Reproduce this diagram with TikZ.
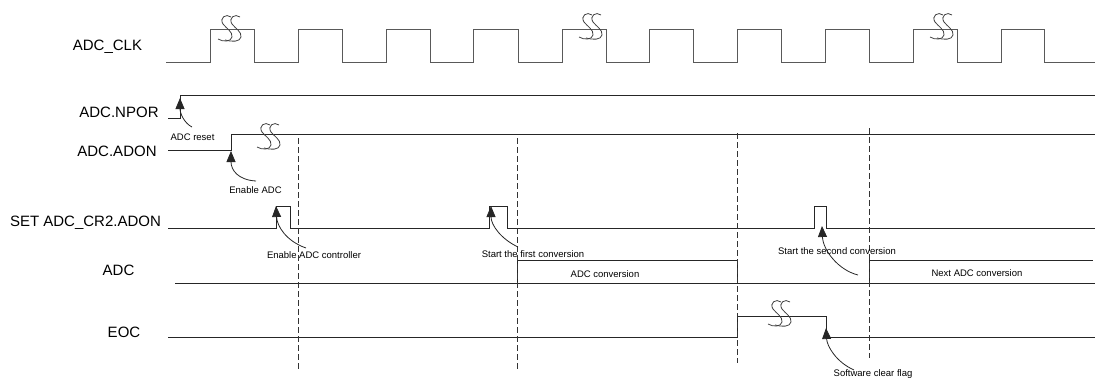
\documentclass[tikz,border=0pt]{standalone}
\usepackage{fontspec}
\setmainfont{Liberation Sans}
\usetikzlibrary{arrows.meta}
\begin{document}
\begin{tikzpicture}[x=1bp,y=-1bp,
  sig/.style={line width=0.8bp, draw=black!85},
  clk/.style={line width=0.9bp, draw=black!65},
  guide/.style={line width=0.7bp, draw=black!80, dash pattern=on 6bp off 3bp},
  lbl/.style={font=\fontsize{15bp}{17bp}\selectfont, inner sep=0, anchor=base},
  note/.style={font=\fontsize{9.5bp}{11bp}\selectfont, inner sep=0, anchor=base},
  callout/.style={line width=0.8bp, draw=black!85, -{Triangle[length=11bp,width=9bp]}},
  brk/.pic={
    \draw[line width=0.8bp, black!75]
      (4,-12) .. controls (-1,-16) and (-8,-11) .. (-4,-5)
      .. controls (-1,-1) and (6,3) .. (5,8)
      .. controls (4,13) and (-4,13) .. (-9,10);
    \draw[line width=0.8bp, black!75]
      (13,-12) .. controls (8,-16) and (1,-11) .. (5,-5)
      .. controls (8,-1) and (15,3) .. (14,8)
      .. controls (13,13) and (5,13) .. (-2,11);
  },
]
\useasboundingbox (0,0) rectangle (1095,379);

% ---- signal names ----
\node[lbl] (lclk)  at (107.5,50) {ADC\_CLK};
\node[lbl] (lnpor) at (119,117) {ADC.NPOR};
\node[lbl] (ladon) at (117,156) {ADC.ADON};
\node[lbl] (lset)  at (85.5,226) {SET ADC\_CR2.ADON};
\node[lbl] (ladc)  at (118.5,275) {ADC};
\node[lbl] (leoc)  at (124,337) {EOC};

% ---- ADC_CLK ----
\draw[clk] (166,62)
  -- (210,62) -- (210,29) -- (254,29) -- (254,62)
  -- (298,62) -- (298,29) -- (342,29) -- (342,62)
  -- (386,62) -- (386,29) -- (430,29) -- (430,62)
  -- (473,62) -- (473,29) -- (518,29) -- (518,62)
  -- (562,62) -- (562,29) -- (606,29) -- (606,62)
  -- (649,62) -- (649,29) -- (693,29) -- (693,62)
  -- (737,62) -- (737,29) -- (781,29) -- (781,62)
  -- (825,62) -- (825,29) -- (869,29) -- (869,62)
  -- (913,62) -- (913,29) -- (957,29) -- (957,62)
  -- (1001,62) -- (1001,29) -- (1044,29) -- (1044,62)
  -- (1095,62);
\pic at (227,29) {brk};
\pic at (588,27) {brk};
\pic at (939,27) {brk};

% ---- ADC.NPOR ----
\draw[sig] (168,118) -- (180,118) -- (180,95) -- (1095,95);

% ---- ADC.ADON ----
\draw[sig] (168,150) -- (231,150) -- (231,134) -- (1095,134);
\pic at (266,137) {brk};

% ---- SET ADC_CR2.ADON ----
\draw[sig] (168,228) -- (276,228) -- (276,206) -- (290,206) -- (290,228)
  -- (489,228) -- (489,206) -- (507,206) -- (507,228)
  -- (814,228) -- (814,206) -- (826,206) -- (826,228) -- (1095,228);

% ---- ADC ----
\draw[sig] (175,283) -- (1095,283);
\draw[sig] (517,283) -- (517,260) -- (737,260) -- (737,283);
\draw[sig] (869,283) -- (869,260) -- (1093,260);

% ---- EOC ----
\draw[sig] (168,337) -- (737,337) -- (737,316) -- (826,316) -- (826,337) -- (1095,337);
\pic at (777,314) {brk};

% ---- guide lines ----
\draw[guide] (298,138) -- (298,370);
\draw[guide] (517,138) -- (517,370);
\draw[guide] (737,133) -- (737,363);
\draw[guide] (869,128) -- (869,358);

% ---- annotations ----
\node[note] (nreset) at (192.5,140) {ADC reset};
\node[note] (nenadc) at (255.5,193) {Enable ADC};
\node[note] (nenctl) at (314,258) {Enable ADC controller};
\node[note] (nfirst) at (533,257) {Start the first conversion};
\node[note] (nconv)  at (605,277) {ADC conversion};
\node[note] (nsecond) at (837,254) {Start the second conversion};
\node[note] (nnext)  at (977,276) {Next ADC conversion};
\node[note] (nclear) at (873,376) {Software clear flag};

\coordinate (a1s) at (192,127);  \coordinate (a1e) at (180,98);
\coordinate (a2s) at (256,181);  \coordinate (a2e) at (231,151);
\coordinate (a3s) at (306,248);  \coordinate (a3e) at (276,206);
\coordinate (a4s) at (518,247);  \coordinate (a4e) at (491,206);
\coordinate (a5s) at (858,275);  \coordinate (a5e) at (822,226);
\coordinate (a6s) at (854,370);  \coordinate (a6e) at (826,328);

\draw[callout] (a1s) .. controls (184,123) and (180,113) .. (a1e);
\draw[callout] (a2s) .. controls (238,180) and (231,170) .. (a2e);
\draw[callout] (a3s) .. controls (286,241) and (277,226) .. (a3e);
\draw[callout] (a4s) .. controls (501,239) and (491,225) .. (a4e);
\draw[callout] (a5s) .. controls (838,270) and (823,250) .. (a5e);
\draw[callout] (a6s) .. controls (836,362) and (827,346) .. (a6e);
\end{tikzpicture}
\end{document}
